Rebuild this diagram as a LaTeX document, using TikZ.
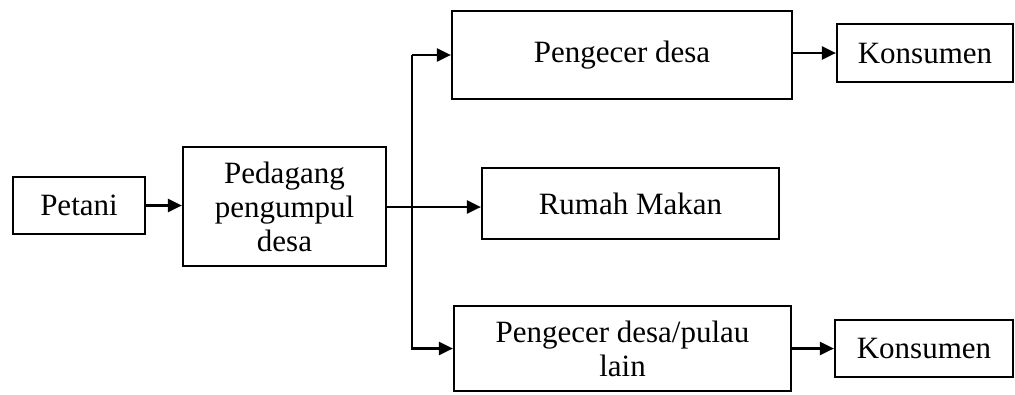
\documentclass[tikz,border=0pt]{standalone}
\usepackage{fontspec}
\setmainfont{Liberation Serif}
\usetikzlibrary{arrows.meta}
\begin{document}
\begin{tikzpicture}[x=1pt,y=-1pt,
  box/.style={draw=black,line width=2.2pt,inner sep=0pt,align=center,
    font=\fontsize{31}{34}\selectfont},
  conn/.style={line width=2.4pt,-{Triangle[length=14pt,width=13pt]}},
  plain/.style={line width=2.4pt}]
\useasboundingbox (0,0) rectangle (1015,394);
\node[box,minimum width=132pt,minimum height=57pt] (petani) at (79,205.5) {Petani};
\node[box,minimum width=203pt,minimum height=119pt] (pedagang) at (284.5,206.5) {Pedagang\\pengumpul\\desa};
\node[box,minimum width=340pt,minimum height=88pt] (pengecer) at (622,55) {Pengecer desa};
\node[box,minimum width=176pt,minimum height=58pt] (kons1) at (925,53) {Konsumen};
\node[box,minimum width=297pt,minimum height=71pt] (rumah) at (630.5,203.5) {Rumah Makan};
\node[box,minimum width=337pt,minimum height=85pt] (pengecer2) at (622.5,348.5) {Pengecer desa/pulau\\lain};
\node[box,minimum width=178pt,minimum height=57pt] (kons2) at (924,348.5) {Konsumen};
\coordinate (split) at (412,207);
\draw[conn] (petani.east) -- (petani.east -| pedagang.west);
\draw[conn] (pedagang.east |- split) -- (split -| rumah.west);
\draw[plain] (split) -- (split |- pengecer.west);
\draw[conn] (split |- pengecer.west) -- (pengecer.west);
\draw[conn] (split) |- (pengecer2.west);
\draw[conn] (pengecer.east |- kons1.west) -- (kons1.west);
\draw[conn] (pengecer2.east) -- (pengecer2.east -| kons2.west);
\end{tikzpicture}
\end{document}
